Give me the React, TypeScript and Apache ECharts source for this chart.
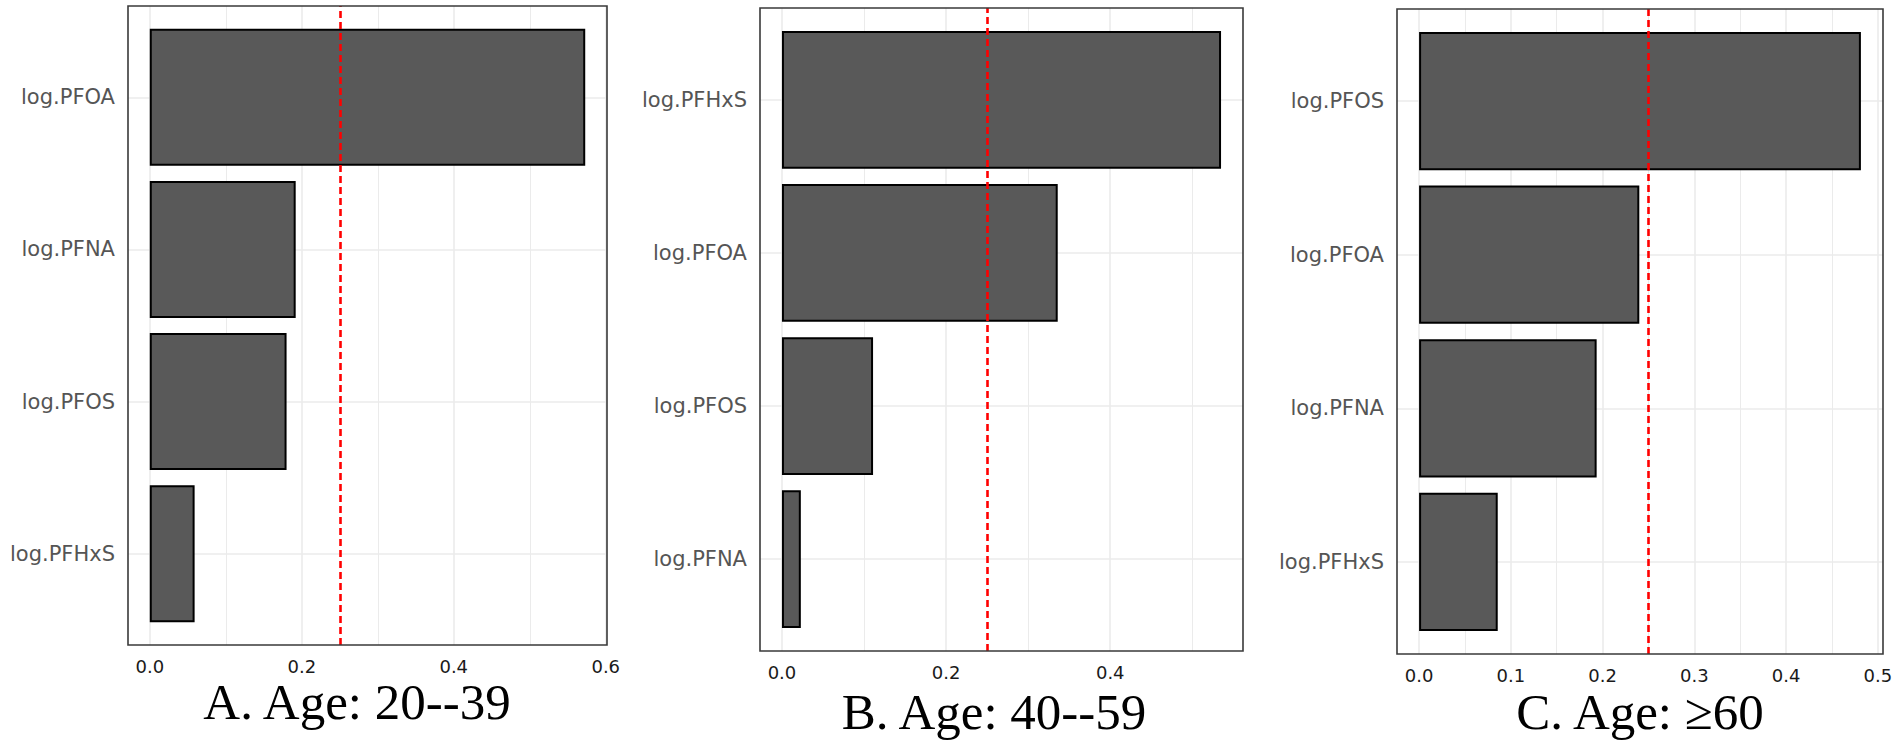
import React, { useEffect, useRef } from "react";
import * as echarts from "echarts";

// Panel A: Age 20--39
const catsA = ["log.PFOA", "log.PFNA", "log.PFOS", "log.PFHxS"];
const valsA = [0.573, 0.192, 0.18, 0.059];
const ticksA = [0, 0.2, 0.4, 0.6];
const minorA = [0.1, 0.3, 0.5];

// Panel B: Age 40--59
const catsB = ["log.PFHxS", "log.PFOA", "log.PFOS", "log.PFNA"];
const valsB = [0.535, 0.336, 0.111, 0.023];
const ticksB = [0, 0.2, 0.4];
const minorB = [0.1, 0.3, 0.5];

// Panel C: Age >= 60
const catsC = ["log.PFOS", "log.PFOA", "log.PFNA", "log.PFHxS"];
const valsC = [0.4815, 0.24, 0.1935, 0.0857];
const ticksC = [0, 0.1, 0.2, 0.3, 0.4, 0.5];
const minorC = [0.05, 0.15, 0.25, 0.35, 0.45];

const titles = ["A. Age: 20--39", "B. Age: 40--59", "C. Age: \u226560"];
const threshold = 0.25;

const panels = [
  { cats: catsA, vals: valsA, ticks: ticksA, minor: minorA },
  { cats: catsB, vals: valsB, ticks: ticksB, minor: minorB },
  { cats: catsC, vals: valsC, ticks: ticksC, minor: minorC },
];

// layout (pixels)
const boxes = [
  { left: 128, right: 607, top: 6, bottom: 645, titleX: 357, titleY: 702 },
  { left: 760, right: 1243, top: 8, bottom: 651, titleX: 994, titleY: 712 },
  { left: 1397, right: 1883, top: 9, bottom: 654, titleX: 1640, titleY: 712 },
];

const GRID_COLOR = "#ebebeb";
const SANS = '"DejaVu Sans", "Liberation Sans", sans-serif';
const SERIF = '"Liberation Serif", "Times New Roman", serif';

function buildOption() {
  const grid: any[] = [];
  const xAxis: any[] = [];
  const yAxis: any[] = [];
  const series: any[] = [];
  const graphic: any[] = [];

  panels.forEach((p, i) => {
    const b = boxes[i];
    const H = b.bottom - b.top;
    const W = b.right - b.left;
    const band = H / (p.cats.length + 0.2);
    const M = Math.max(...p.vals);
    const min = -0.05 * M;
    const max = 1.05 * M;
    const outer = 2 * i;
    const inner = 2 * i + 1;

    grid.push({
      left: b.left,
      top: b.top,
      width: W,
      height: H,
      show: true,
      borderColor: "#3a3a3a",
      borderWidth: 1.6,
      backgroundColor: "transparent",
      z: 20,
    });
    grid.push({
      left: b.left,
      top: b.top + 0.1 * band,
      width: W,
      height: p.cats.length * band,
    });

    xAxis.push({
      type: "value",
      gridIndex: outer,
      min,
      max,
      axisLine: { show: false },
      axisTick: { show: false },
      splitLine: { show: false },
      axisLabel: {
        customValues: p.ticks,
        formatter: (v: number) => v.toFixed(1),
        margin: 12,
        fontSize: 18,
        lineHeight: 18,
        color: "#1a1a1a",
        fontFamily: SANS,
      },
    });
    yAxis.push({ type: "value", gridIndex: outer, min: 0, max: 1, show: false });

    xAxis.push({ type: "value", gridIndex: inner, min, max, show: false });
    yAxis.push({
      type: "category",
      gridIndex: inner,
      data: p.cats,
      inverse: true,
      axisLine: { show: false },
      axisTick: { show: false },
      splitLine: { show: false },
      axisLabel: {
        margin: 13,
        fontSize: 21,
        color: "#555",
        fontFamily: SANS,
      },
    });

    // vertical grid lines
    series.push({
      type: "line",
      xAxisIndex: outer,
      yAxisIndex: outer,
      data: [],
      z: 1,
      markLine: {
        silent: true,
        z: 1,
        symbol: ["none", "none"],
        label: { show: false },
        animation: false,
        data: [
          ...p.ticks.map((v) => ({ xAxis: v, lineStyle: { color: GRID_COLOR, width: 1.6, type: "solid" } })),
          ...p.minor.map((v) => ({ xAxis: v, lineStyle: { color: GRID_COLOR, width: 1, type: "solid" } })),
        ],
      },
    });

    // bars + horizontal grid lines
    series.push({
      type: "bar",
      xAxisIndex: inner,
      yAxisIndex: inner,
      data: p.vals,
      barCategoryGap: "10%",
      z: 5,
      itemStyle: { color: "#595959", borderColor: "#000", borderWidth: 2 },
      markLine: {
        silent: true,
        z: 1,
        symbol: ["none", "none"],
        label: { show: false },
        animation: false,
        lineStyle: { color: GRID_COLOR, width: 1.6, type: "solid" },
        data: p.cats.map((c) => ({ yAxis: c })),
      },
    });

    // threshold line
    series.push({
      type: "line",
      xAxisIndex: outer,
      yAxisIndex: outer,
      data: [],
      z: 10,
      markLine: {
        silent: true,
        z: 10,
        symbol: ["none", "none"],
        label: { show: false },
        animation: false,
        lineStyle: { color: "#ff0000", width: 2.6, type: [7, 4] },
        data: [{ xAxis: threshold }],
      },
    });

    graphic.push({
      type: "text",
      x: b.titleX,
      y: b.titleY,
      style: {
        text: titles[i],
        font: `51px ${SERIF}`,
        lineHeight: 40,
        fill: "#000",
        align: "center",
        verticalAlign: "middle",
        textAlign: "center",
        textVerticalAlign: "middle",
      },
    });
  });

  return {
    animation: false,
    backgroundColor: "#fff",
    grid,
    xAxis,
    yAxis,
    series,
    graphic,
  };
}

export default function App() {
  const ref = useRef<HTMLDivElement>(null);
  useEffect(() => {
    document.body.style.margin = "0";
    if (!ref.current) return;
    const chart = echarts.init(ref.current, undefined, { renderer: "svg" });
    chart.setOption(buildOption() as any);
    return () => chart.dispose();
  }, []);
  return <div ref={ref} style={{ width: 1902, height: 753 }} />;
}
